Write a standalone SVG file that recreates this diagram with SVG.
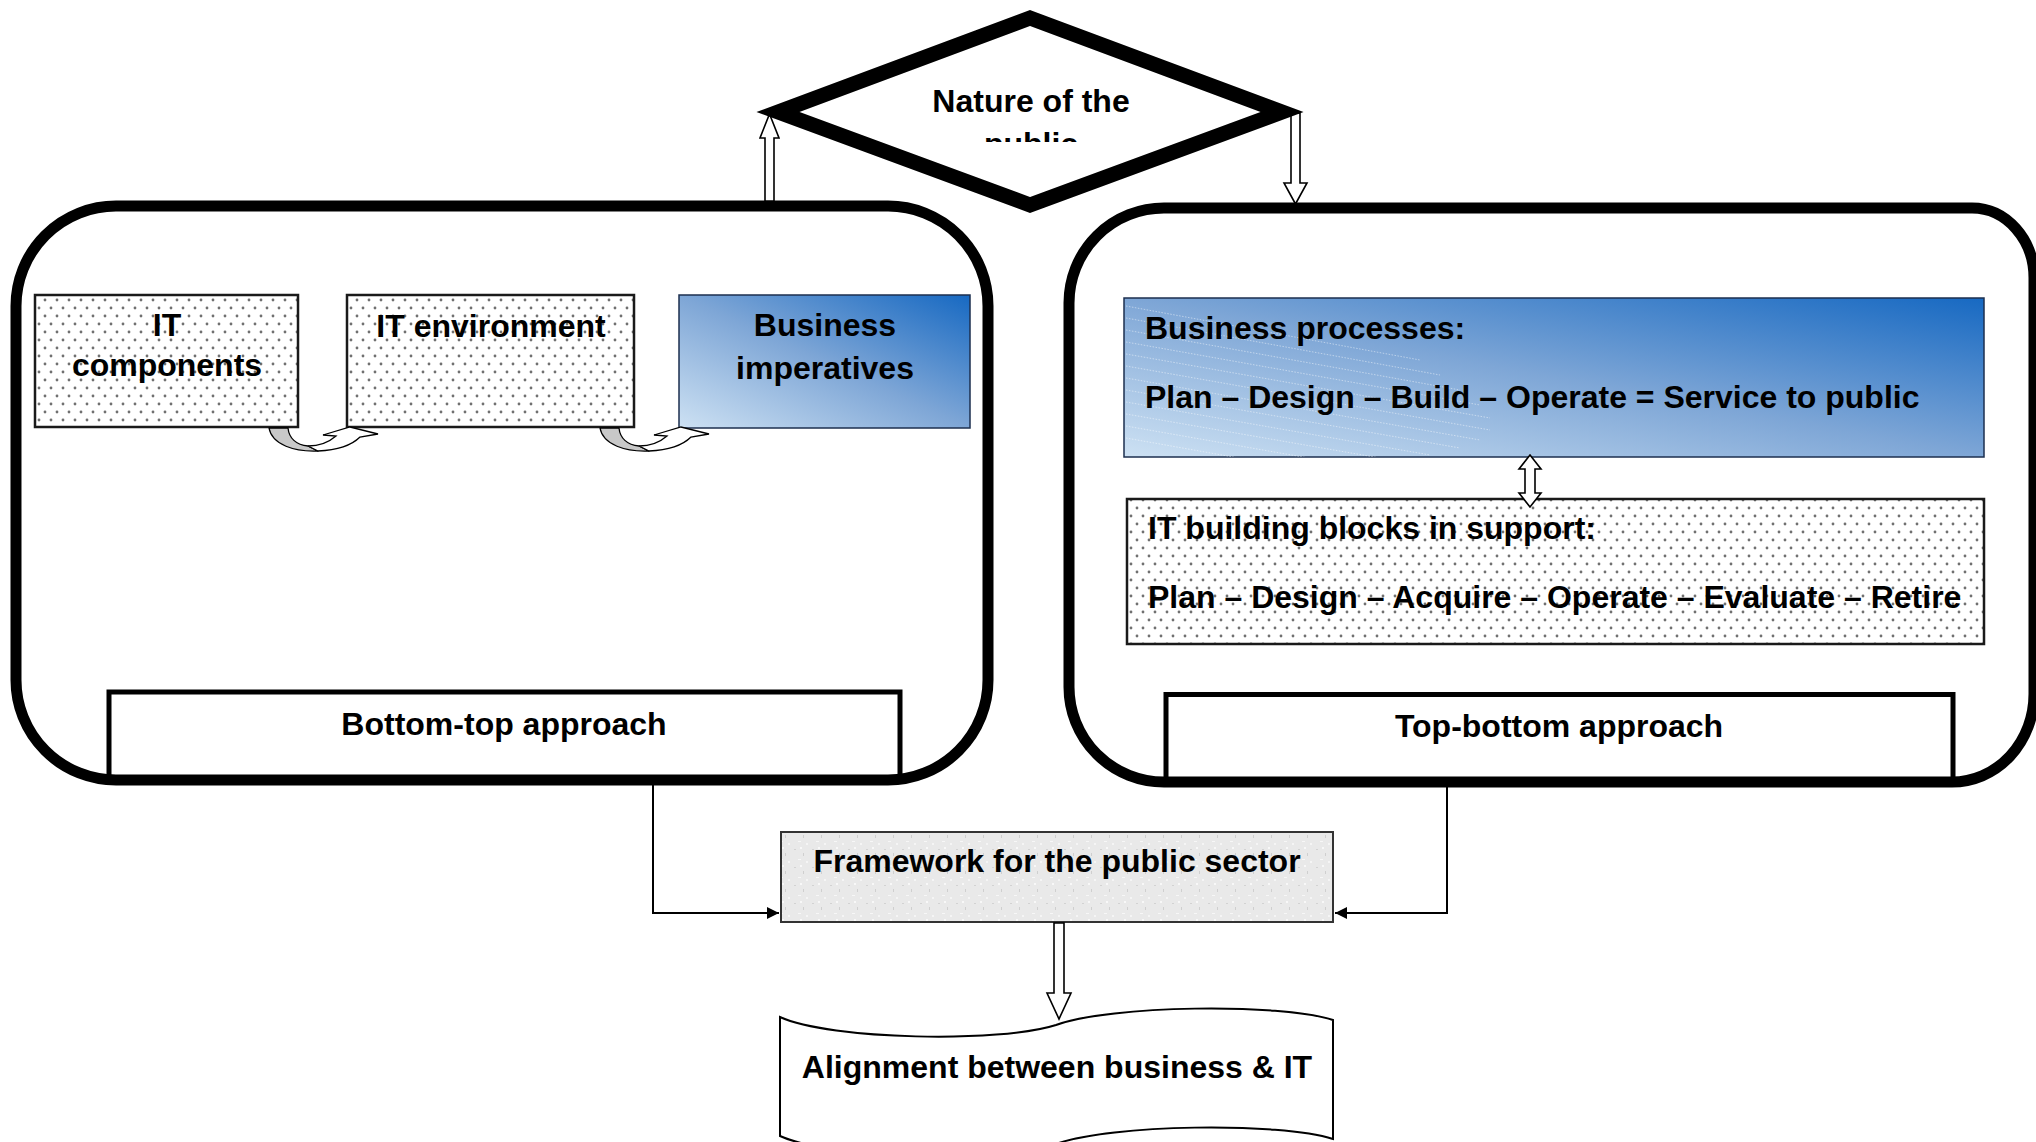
<svg xmlns="http://www.w3.org/2000/svg" width="2036" height="1142" viewBox="0 0 2036 1142">
<defs>
<style>
.t{font-family:"Liberation Sans",Arial,Helvetica,sans-serif;font-weight:bold;font-size:32px;fill:#000}
.c{text-anchor:middle}
.cont{fill:none;stroke:#000;stroke-width:11}
.contfill{fill:#fff;stroke:none}
.dotbox{fill:url(#dots);stroke:#1a1a1a;stroke-width:2.5}
.bluebox{stroke:#1c2f4f;stroke-width:1.5}
.apbox{fill:#fff;stroke:#000;stroke-width:5}
.hollow{fill:#fff;stroke:#000;stroke-width:1.6;stroke-linejoin:miter}
.conn{fill:none;stroke:#000;stroke-width:2}
.hatch{stroke:#ffffff;stroke-opacity:0.45;stroke-width:1;stroke-dasharray:1.5 1.5}
.back{fill:#c8c8c8;stroke:#000;stroke-width:1.3;stroke-linejoin:round}
.front{fill:#fff;stroke:#000;stroke-width:1.3;stroke-linejoin:miter}
</style>
<pattern id="dots" x="0" y="0" width="12" height="16" patternUnits="userSpaceOnUse">
<rect width="12" height="16" fill="#fff"/>
<circle cx="3" cy="4" r="1.4" fill="#707070"/>
<circle cx="9" cy="12" r="1.4" fill="#707070"/>
</pattern>
<pattern id="speck" x="0" y="0" width="18" height="18" patternUnits="userSpaceOnUse">
<rect width="18" height="18" fill="#e9e9e9"/>
<rect x="2" y="3" width="2" height="1" fill="#d2d2d2"/>
<rect x="11" y="7" width="1" height="3" fill="#cfcfcf"/>
<rect x="6" y="13" width="3" height="1" fill="#f7f7f7"/>
<rect x="14" y="15" width="2" height="2" fill="#f5f5f5"/>
<rect x="8" y="1" width="2" height="2" fill="#f8f8f8"/>
</pattern>
<linearGradient id="blue" x1="0" y1="1" x2="1" y2="0">
<stop offset="0" stop-color="#cde1f3"/>
<stop offset="0.5" stop-color="#7ea6d6"/>
<stop offset="1" stop-color="#1769c2"/>
</linearGradient>
<clipPath id="diaClip"><rect x="790" y="60" width="480" height="82"/></clipPath>
<clipPath id="bpClip"><rect x="1124" y="298" width="860" height="159"/></clipPath>
<marker id="arr" viewBox="0 0 10 10" refX="10" refY="5" markerWidth="6" markerHeight="6" orient="auto" markerUnits="strokeWidth">
<path d="M0,0 L10,5 L0,10 Z" fill="#000"/>
</marker>
</defs>

<rect width="2036" height="1142" fill="#fff"/>

<!-- container backgrounds -->
<g id="left-container-bg"><rect class="contfill" x="16" y="206" width="972" height="574" rx="100" ry="100"/></g>
<g id="right-container-bg"><path class="contfill" d="M1164,208 H1972 A62,70 0 0 1 2034,278 V694 A82,88 0 0 1 1952,782 H1164 A95,95 0 0 1 1069,687 V303 A95,95 0 0 1 1164,208 Z"/></g>

<!-- nodes -->
<g id="it-components">
<rect class="dotbox" x="35" y="295" width="263" height="132"/>
<text class="t c" x="167" y="336">IT</text>
<text class="t c" x="167" y="376">components</text>
</g>
<g id="it-environment">
<rect class="dotbox" x="347" y="295" width="287" height="132"/>
<text class="t c" x="491" y="337">IT environment</text>
</g>
<g id="business-imperatives">
<rect class="bluebox" x="679" y="295" width="291" height="133" fill="url(#blue)"/>
<text class="t c" x="825" y="336">Business</text>
<text class="t c" x="825" y="379">imperatives</text>
</g>
<g id="business-processes">
<rect class="bluebox" x="1124" y="298" width="860" height="159" fill="url(#blue)"/>
<g clip-path="url(#bpClip)">
<line class="hatch" x1="1126" y1="306" x2="1420" y2="360"/>
<line class="hatch" x1="1126" y1="318" x2="1440" y2="375"/>
<line class="hatch" x1="1126" y1="330" x2="1460" y2="390"/>
<line class="hatch" x1="1126" y1="342" x2="1480" y2="405"/>
<line class="hatch" x1="1126" y1="354" x2="1490" y2="418"/>
<line class="hatch" x1="1126" y1="366" x2="1490" y2="430"/>
<line class="hatch" x1="1126" y1="378" x2="1480" y2="440"/>
<line class="hatch" x1="1126" y1="390" x2="1460" y2="448"/>
<line class="hatch" x1="1126" y1="402" x2="1430" y2="455"/>
<line class="hatch" x1="1126" y1="414" x2="1380" y2="458"/>
<line class="hatch" x1="1126" y1="426" x2="1320" y2="460"/>
<line class="hatch" x1="1126" y1="438" x2="1250" y2="460"/>
</g>
<text class="t" x="1145" y="339">Business processes:</text>
<text class="t" x="1145" y="408">Plan – Design – Build – Operate = Service to public</text>
</g>
<g id="it-building-blocks">
<rect class="dotbox" x="1127" y="499" width="857" height="145"/>
<text class="t" x="1148" y="539">IT building blocks in support:</text>
<text class="t" x="1148" y="608">Plan – Design – Acquire – Operate – Evaluate – Retire</text>
</g>
<g id="bottom-top-approach">
<rect class="apbox" x="109" y="692" width="791" height="86"/>
<text class="t c" x="504" y="735">Bottom-top approach</text>
</g>
<g id="top-bottom-approach">
<rect class="apbox" x="1166" y="694.5" width="787" height="85"/>
<text class="t c" x="1559" y="737">Top-bottom approach</text>
</g>

<!-- container outlines -->
<g id="left-container"><rect class="cont" x="16" y="206" width="972" height="574" rx="100" ry="100"/></g>
<g id="right-container"><path class="cont" d="M1164,208 H1972 A62,70 0 0 1 2034,278 V694 A82,88 0 0 1 1952,782 H1164 A95,95 0 0 1 1069,687 V303 A95,95 0 0 1 1164,208 Z"/></g>

<g id="framework">
<rect x="781" y="832" width="552" height="90" fill="url(#speck)" stroke="#333" stroke-width="2"/>
<text class="t c" x="1057" y="872">Framework for the public sector</text>
</g>
<g id="alignment">
<path d="M780,1017 C830,1040 1000,1043 1056,1025 C1110,1005 1280,1003 1333,1020 L1333,1139 C1280,1122 1110,1124 1056,1144 C1000,1162 830,1159 780,1136 Z" fill="#fff" stroke="#000" stroke-width="2"/>
<text class="t c" x="1057" y="1078">Alignment between business &amp; IT</text>
</g>

<!-- connectors -->
<g id="connectors">
<polygon class="hollow" points="765,201 765,138 760,138 769.5,114 779,138 774,138 774,201"/>
<polygon class="hollow" points="1291,113 1300,113 1300,183 1307,183 1295.5,204 1284,183 1291,183"/>
<polygon class="hollow" points="1530,455 1541,469 1535,469 1535,493 1541,493 1530,507 1519,493 1525,493 1525,469 1519,469"/>
<polygon class="hollow" points="1054,923 1064,923 1064,993 1071,993 1059,1019 1047,993 1054,993"/>
<polyline class="conn" points="653,785 653,913 779,913" marker-end="url(#arr)"/>
<polyline class="conn" points="1447,787 1447,913 1335,913" marker-end="url(#arr)"/>
<g id="curved-arrow-1">
<path class="back" d="M269,428 C272,445 295,452 318,451 L308,446 C296,445 289,438 288,428 Z"/>
<path class="front" d="M318,451 C340,450 352,445 360,437 L378,434 L350,427 L323,435 L336,436 C328,443 318,446 308,446 Z"/>
</g>
<g id="curved-arrow-2" transform="translate(331,0)">
<path class="back" d="M269,428 C272,445 295,452 318,451 L308,446 C296,445 289,438 288,428 Z"/>
<path class="front" d="M318,451 C340,450 352,445 360,437 L378,434 L350,427 L323,435 L336,436 C328,443 318,446 308,446 Z"/>
</g>
</g>

<g id="nature-of-the-public">
<polygon points="1030,18 1282,112 1030,205 778,112" fill="#fff" stroke="#000" stroke-width="15" stroke-linejoin="miter" stroke-miterlimit="6"/>
<g clip-path="url(#diaClip)">
<text class="t c" x="1031" y="112">Nature of the</text>
<text class="t c" x="1031" y="155">public</text>
</g>
</g>
</svg>
